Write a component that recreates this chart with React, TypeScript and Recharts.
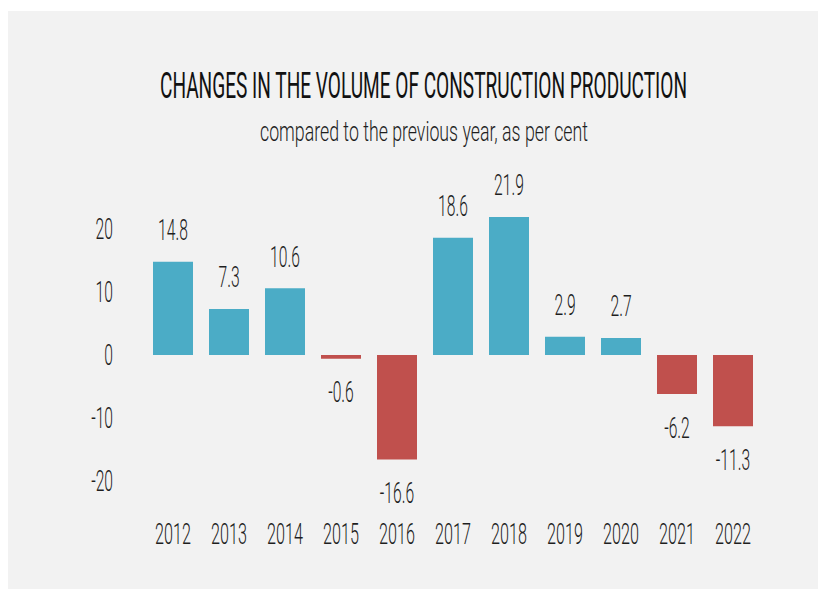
import React from 'react';
import { BarChart, Bar, XAxis, YAxis, Cell, LabelList } from 'recharts';

const years = ['2012', '2013', '2014', '2015', '2016', '2017', '2018', '2019', '2020', '2021', '2022'];
const changes = [14.8, 7.3, 10.6, -0.6, -16.6, 18.6, 21.9, 2.9, 2.7, -6.2, -11.3];
const yTicks = [-20, -10, 0, 10, 20];
const title = 'CHANGES IN THE VOLUME OF CONSTRUCTION PRODUCTION';
const subtitle = 'compared to the previous year, as per cent';

const POS = '#4BACC6';
const NEG = '#C0504D';
const TEXT = '#1e1e1e';
const FONT = 'Roboto, "Open Sans", "DejaVu Sans", sans-serif';
const SX = 0.54;
const FS = 29;

const data = years.map((y, i) => ({ year: y, value: changes[i] }));

const fmt = (v: number) => (Number.isInteger(v) ? String(v) : v.toFixed(1));

function YTick(props: any) {
  const { x, y, payload } = props;
  return (
    <text
      transform={`translate(${x},${y}) scale(${SX},1)`}
      textAnchor="end"
      dy="0.36em"
      fontSize={FS}
      fontWeight={300}
      fontFamily={FONT}
      fill={TEXT}
    >
      {payload.value}
    </text>
  );
}

function XTick(props: any) {
  const { x, y, payload } = props;
  return (
    <text
      transform={`translate(${x},${y}) scale(${SX},1)`}
      textAnchor="middle"
      dy="0.36em"
      fontSize={FS + 1}
      fontWeight={300}
      fontFamily={FONT}
      fill={TEXT}
    >
      {payload.value}
    </text>
  );
}

function ValueLabel(props: any) {
  const { x, y, width, height, value } = props;
  const top = Math.min(y, y + height);
  const bottom = Math.max(y, y + height);
  const cx = x + width / 2;
  const cy = value >= 0 ? top - 32 : bottom + 33;
  return (
    <text
      transform={`translate(${cx},${cy}) scale(${SX},1)`}
      textAnchor="middle"
      dy="0.36em"
      fontSize={FS}
      fontWeight={300}
      fontFamily={FONT}
      fill={TEXT}
    >
      {fmt(value)}
    </text>
  );
}

const TSX = 0.62;
const SSX = 0.75;

export default function App() {
  return (
    <div style={{ position: 'relative', width: 826, height: 597, background: '#ffffff' }}>
      <style>{`body{margin:0;}`}</style>
      <div
        style={{
          position: 'absolute',
          left: 8,
          top: 11,
          width: 810,
          height: 578,
          background: '#f2f2f2',
        }}
      />
      <svg
        width={826}
        height={597}
        style={{ position: 'absolute', left: 0, top: 0 }}
      >
        <text
          transform={`translate(423.5,98) scale(${TSX},1)`}
          textAnchor="middle"
          fontSize={37}
          fontWeight={400}
          fontFamily={FONT}
          fill="#111111"
          textLength={527 / TSX}
          lengthAdjust="spacingAndGlyphs"
        >
          {title}
        </text>
        <text
          transform={`translate(424,141) scale(${SSX},1)`}
          textAnchor="middle"
          fontSize={27}
          fontWeight={300}
          fontFamily={FONT}
          fill={TEXT}
          textLength={328 / SSX}
          lengthAdjust="spacingAndGlyphs"
        >
          {subtitle}
        </text>
      </svg>
      <div style={{ position: 'absolute', left: 0, top: 0 }}>
        <BarChart
          width={826}
          height={597}
          data={data}
          margin={{ top: 197.5, right: 65, bottom: 86, left: 0 }}
        >
          <XAxis
            dataKey="year"
            height={30}
            axisLine={false}
            tickLine={false}
            tickMargin={46}
            tick={<XTick />}
            interval={0}
          />
          <YAxis
            width={145}
            domain={[-20, 25]}
            ticks={yTicks}
            axisLine={false}
            tickLine={false}
            tickMargin={26}
            tick={<YTick />}
            interval={0}
          />
          <Bar dataKey="value" barSize={40} isAnimationActive={false}>
            {data.map((d, i) => (
              <Cell key={i} fill={d.value >= 0 ? POS : NEG} />
            ))}
            <LabelList dataKey="value" content={<ValueLabel />} />
          </Bar>
        </BarChart>
      </div>
    </div>
  );
}
